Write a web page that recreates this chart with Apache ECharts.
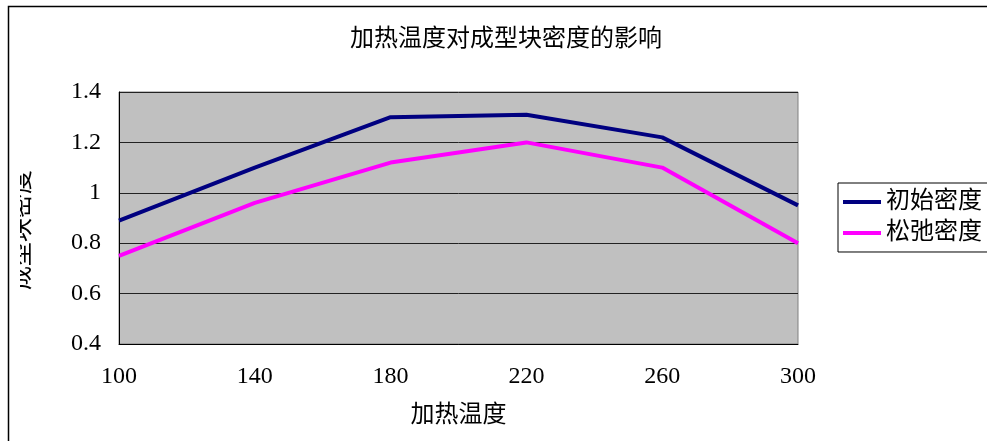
<!DOCTYPE html>
<html>
<head>
<meta charset="utf-8">
<script src="https://cdn.jsdelivr.net/npm/echarts@6/dist/echarts.min.js"></script>
<style>html,body{margin:0;padding:0;background:#fff}#c{width:987px;height:441px}</style>
</head>
<body>
<div id="c"></div>
<script>
const categories = ['100', '140', '180', '220', '260', '300'];
const initialDensity = [0.89, 1.10, 1.30, 1.31, 1.22, 0.95];
const relaxedDensity = [0.75, 0.96, 1.12, 1.20, 1.10, 0.80];
const seriesNames = ['初始密度', '松弛密度'];
const titleText = '加热温度对成型块密度的影响';
const xName = '加热温度';
const yName = '成型块密度';

const FONT = "'Liberation Serif', 'Noto Sans CJK SC', serif";
const chart = echarts.init(document.getElementById('c'));
chart.setOption({
  backgroundColor: '#fff',
  animation: false,
  textStyle: { fontFamily: FONT },
  title: {
    text: titleText,
    left: 501, top: 23, textAlign: 'center',
    textStyle: { fontFamily: FONT, fontSize: 24, fontWeight: 'normal', color: '#000' }
  },
  legend: {
    orient: 'vertical',
    left: 838, top: 183,
    padding: [7, 10, 7, 5],
    itemGap: 7,
    itemWidth: 38, itemHeight: 4,
    icon: 'rect',
    borderColor: '#000', borderWidth: 1,
    backgroundColor: '#fff',
    textStyle: { fontFamily: FONT, fontSize: 24, color: '#000' },
    data: seriesNames
  },
  grid: {
    left: 119, right: 189, top: 92, bottom: 97,
    outerBoundsMode: 'none', containLabel: false,
    show: true, backgroundColor: '#C0C0C0', borderColor: '#808080', borderWidth: 1
  },
  xAxis: {
    type: 'category',
    data: categories,
    boundaryGap: false,
    name: xName, nameLocation: 'middle', nameGap: 60,
    nameTextStyle: { fontFamily: FONT, fontSize: 24, color: '#000' },
    axisLine: { lineStyle: { color: '#000', width: 1 } },
    axisTick: { show: false },
    axisLabel: { fontFamily: FONT, fontSize: 24, color: '#000', margin: 21 },
    splitLine: { show: false }
  },
  yAxis: {
    type: 'value', min: 0.4, max: 1.4, interval: 0.2,
    name: yName, nameLocation: 'middle', nameRotate: 90, nameGap: 84,
    nameTextStyle: { fontFamily: FONT, fontSize: 24, color: '#000', padding: [0, 24, 0, 0] },
    axisLine: { show: true, lineStyle: { color: '#000', width: 1 } },
    axisTick: { show: false },
    axisLabel: { fontFamily: FONT, fontSize: 24, color: '#000', margin: 18 },
    splitLine: { show: true, lineStyle: { color: '#222', width: 1 } }
  },
  series: [
    { name: seriesNames[0], type: 'line', data: initialDensity, symbol: 'none',
      lineStyle: { color: '#000080', width: 4 }, itemStyle: { color: '#000080' } },
    { name: seriesNames[1], type: 'line', data: relaxedDensity, symbol: 'none',
      lineStyle: { color: '#FF00FF', width: 4 }, itemStyle: { color: '#FF00FF' } }
  ],
  graphic: [
    { type: 'rect', z: 100, shape: { x: 9, y: 150, width: 11, height: 160 },
      style: { fill: '#fff' }, silent: true },
    { type: 'rect', z: 101, shape: { x: 8.5, y: 6.5, width: 1200, height: 1000 },
      style: { fill: 'none', stroke: '#000', lineWidth: 1.5 }, silent: true }
  ]
});
</script>
</body>
</html>
